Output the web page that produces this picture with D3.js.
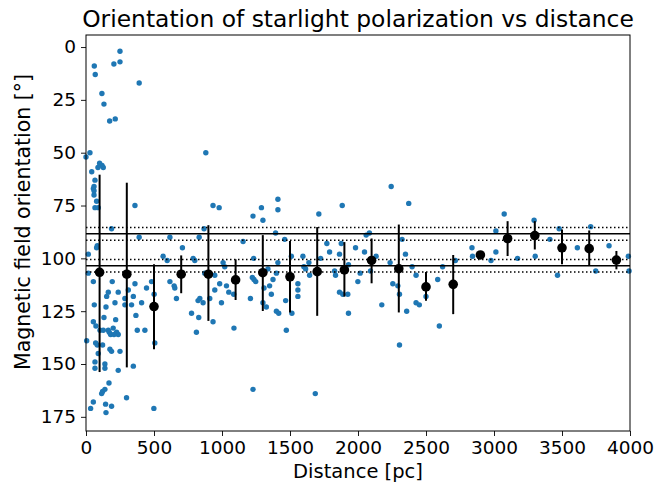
<!DOCTYPE html>
<html>
<head>
<meta charset="utf-8">
<script src="https://cdn.jsdelivr.net/npm/d3@7"></script>
<style>
  body { margin: 0; background: #fff; }
  svg { display: block; font-family: "DejaVu Sans", sans-serif; }
</style>
</head>
<body>
<div id="chart"></div>
<script>
// stars: [distance pc, orientation deg]
const stars = [
  [250,2],[205,8],[250,7],[61,9],[68,13],[391,17],[117,22],[132,27],[174,35],[215,34],
  [29,50],[0,52],[881,50],[100,55],[118,56],[88,57],[127,57],[42,59],
  [66,63],[59,66],[54,67],[59,68],[59,70],[78,73],[66,76],[90,76],[360,75],[934,75],[979,76],
  [188,86],[391,90],[617,90],[868,86],[832,90],[1228,80],[1290,76],[1301,82],[1411,72],[1155,92],
  [17,98],[83,94],[78,95],[709,95],[567,99],[597,101],[788,100],[800,101],[1008,102],[1020,104],
  [1233,100],[1338,105],[1400,107],[17,107],[54,111],[193,111],[360,112],[482,111],[445,114],
  [501,117],[617,111],[648,113],[653,114],[873,107],[947,108],[947,115],[983,112],[1033,113],
  [1050,116],[1223,109],[1235,110],[1248,111],[1309,114],[1350,113],[1375,110],[164,116],[237,116],
  [311,115],[348,118],[286,119],[152,118],[213,121],[147,123],[61,122],[286,122],[335,122],[409,121],
  [54,130],[73,132],[103,134],[127,134],[164,134],[200,133],[225,135],[237,136],[171,135],[181,136],
  [206,136],[132,128],[218,129],[367,127],[377,134],[433,134],[5,139],[71,140],[83,141],[90,145],
  [122,141],[176,143],[188,144],[250,144],[66,149],[66,152],[139,150],[139,152],[237,153],[348,151],
  [169,159],[139,162],[122,163],[115,164],[54,168],[34,171],[298,166],[144,169],[188,170],[147,173],
  [499,171],[506,140],[665,119],[776,126],[824,120],[837,119],[861,121],[829,128],[812,135],[910,119],
  [934,130],[996,121],[1086,117],[1088,133],[1209,119],[1228,162],[1301,121],[1326,123],[1363,117],
  [1400,125],[1417,126],
  [1411,77],[1712,79],[1884,75],[2244,66],[2373,74],[1394,88],[1461,91],[1411,102],[1510,99],
  [1595,99],[1602,104],[1615,105],[1644,108],[1639,102],[1558,112],[1558,115],[1558,118],[1725,100],
  [1771,93],[1791,97],[1828,106],[1835,108],[1864,98],[1877,93],[1864,116],[1888,117],[1925,117],
  [1930,103],[1982,95],[1999,111],[2016,107],[2048,97],[2060,89],[2084,88],[2133,99],[2092,106],
  [2236,102],[2256,112],[2293,113],[2305,117],[2324,91],[2349,98],[2398,104],[2427,108],[2500,118],
  [2622,104],[2586,110],[2716,101],
  [1468,120],[1473,134],[1514,126],[1686,164],[1930,126],[2175,122],[2305,141],[2358,125],[2427,121],
  [2451,122],[2598,132],
  [3075,79],[3295,82],[3014,87],[3479,86],[3711,85],[3411,91],[2838,95],[2842,99],[3014,97],
  [2978,101],[3173,100],[3303,99],[3613,95],[3846,94],[3467,108],[3748,106],[3988,99],[3993,106]
];

// binned means with error bar ends
const binCenters = [100,300,500,700,900,1100,1300,1500,1700,1900,2100,2300,2500,2700,2900,3100,3300,3500,3700,3900];
const binMeans = [106.6,107.5,122.8,107.5,107.5,110.2,106.8,108.7,106.3,105.5,101,104.9,113.5,112.3,98.4,90.6,89.2,95,95.4,100.8];
const binLow = [60.4,64.2,102.8,98.6,84.3,100.5,89,91.8,85.2,92.3,90.6,84,106.5,98.4,97.5,82.4,82.4,86.3,86.8,96.5];
const binHigh = [153.8,151.6,143,116.5,129.6,119.7,124.9,125.6,127.2,118.1,111.8,125.6,120.1,126.4,99.3,98.9,95.8,102.8,103.6,105.2];

// reference levels (solid) and their +-1 sigma (dotted)
const levels = [88.4, 103.5];
const levelSigma = 3;

const xTicks = [0,500,1000,1500,2000,2500,3000,3500,4000];
const yTicks = [0,25,50,75,100,125,150,175];

const W = 670, H = 485;
const m = {left: 86, right: 40, top: 35, bottom: 54};

const svg = d3.select("#chart").append("svg").attr("width", W).attr("height", H);

const x = d3.scaleLinear().domain([0, 4000]).range([m.left, W - m.right]);
const y = d3.scaleLinear().domain([-5.7, 181.7]).range([m.top, H - m.bottom]);

const plot = svg.append("g");

plot.selectAll("circle.star")
  .data(stars)
  .join("circle")
  .attr("class", "star")
  .attr("cx", d => x(d[0]))
  .attr("cy", d => y(d[1]))
  .attr("r", 2.7)
  .attr("fill", "#1f77b4");

const lines = [];
levels.forEach(v => {
  lines.push({v: v, dash: null});
  lines.push({v: v - levelSigma, dash: "1.5,2.5"});
  lines.push({v: v + levelSigma, dash: "1.5,2.5"});
});
plot.selectAll("line.level")
  .data(lines)
  .join("line")
  .attr("x1", x(0)).attr("x2", x(4000))
  .attr("y1", d => y(d.v)).attr("y2", d => y(d.v))
  .attr("stroke", "#000")
  .attr("stroke-width", 1.5)
  .attr("stroke-dasharray", d => d.dash);

const bins = binCenters.map((c, i) => ({c, mean: binMeans[i], lo: binLow[i], hi: binHigh[i]}));
plot.selectAll("line.err")
  .data(bins)
  .join("line")
  .attr("x1", d => x(d.c)).attr("x2", d => x(d.c))
  .attr("y1", d => y(d.lo)).attr("y2", d => y(d.hi))
  .attr("stroke", "#000")
  .attr("stroke-width", 2);
plot.selectAll("circle.mean")
  .data(bins)
  .join("circle")
  .attr("cx", d => x(d.c)).attr("cy", d => y(d.mean))
  .attr("r", 4.8)
  .attr("fill", "#000");

// axes
const xAxis = svg.append("g")
  .attr("transform", `translate(0,${H - m.bottom})`)
  .call(d3.axisBottom(x).tickValues(xTicks).tickSize(5).tickPadding(5).tickFormat(d3.format("d")));
const yAxis = svg.append("g")
  .attr("transform", `translate(${m.left},0)`)
  .call(d3.axisLeft(y).tickValues(yTicks).tickSize(5).tickPadding(5));
[xAxis, yAxis].forEach(a => {
  a.select(".domain").remove();
  a.selectAll("text").attr("font-family", "DejaVu Sans").attr("font-size", 18.5).attr("fill", "#000");
  a.selectAll("line").attr("stroke", "#000").attr("stroke-width", 0.9);
});

svg.append("rect")
  .attr("x", m.left).attr("y", m.top)
  .attr("width", W - m.left - m.right).attr("height", H - m.top - m.bottom)
  .attr("fill", "none").attr("stroke", "#000").attr("stroke-width", 1);

svg.append("text")
  .attr("x", (m.left + W - m.right) / 2).attr("y", 27)
  .attr("text-anchor", "middle")
  .attr("font-size", 23.4)
  .text("Orientation of starlight polarization vs distance");

svg.append("text")
  .attr("x", (m.left + W - m.right) / 2).attr("y", 478)
  .attr("text-anchor", "middle")
  .attr("font-size", 19.5)
  .text("Distance [pc]");

svg.append("text")
  .attr("transform", `translate(30,222) rotate(-90)`)
  .attr("text-anchor", "middle")
  .attr("font-size", 20.5)
  .text("Magnetic field orientation [°]");
</script>
</body>
</html>
